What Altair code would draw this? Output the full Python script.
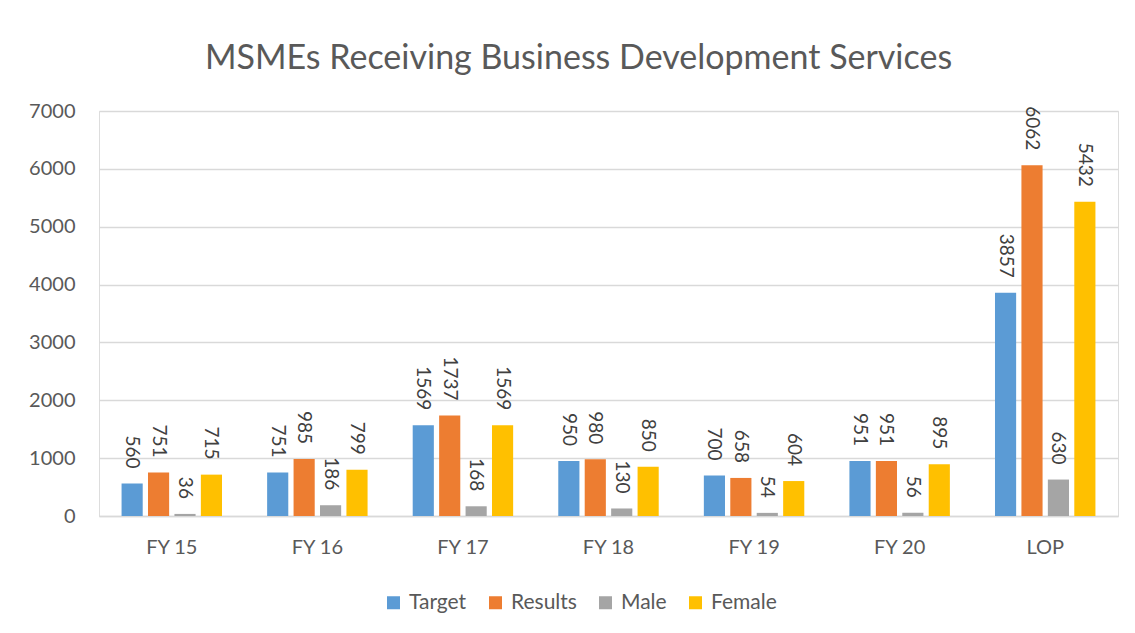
import altair as alt
import pandas as pd

categories = ["FY 15", "FY 16", "FY 17", "FY 18", "FY 19", "FY 20", "LOP"]
series = ["Target", "Results", "Male", "Female"]
target = [560, 751, 1569, 950, 700, 951, 3857]
results = [751, 985, 1737, 980, 658, 951, 6062]
male = [36, 186, 168, 130, 54, 56, 630]
female = [715, 799, 1569, 850, 604, 895, 5432]
colors = ["#5B9BD5", "#ED7D31", "#A5A5A5", "#FFC000"]

rows = []
for s, vals in zip(series, [target, results, male, female]):
    for c, v in zip(categories, vals):
        rows.append({"Year": c, "Series": s, "Value": v})
df = pd.DataFrame(rows)

FONT = "Lato"

x = alt.X("Year:N", sort=categories, title=None,
          scale=alt.Scale(paddingInner=0.31, paddingOuter=0.155),
          axis=alt.Axis(labelAngle=0, labelFontSize=20, labelColor="#595959",
                        labelFont=FONT, ticks=False, domainColor="#D9D9D9",
                        domainWidth=1.5, labelPadding=21))
xo = alt.XOffset("Series:N", sort=series,
                 scale=alt.Scale(paddingInner=0.2, paddingOuter=0))
y = alt.Y("Value:Q", title=None,
          scale=alt.Scale(domain=[0, 7000]),
          axis=alt.Axis(values=list(range(0, 7001, 1000)), format="d",
                        labelFontSize=20,
                        labelColor="#595959", labelFont=FONT, ticks=False,
                        domain=False, gridColor="#D9D9D9", gridWidth=1.5,
                        labelPadding=24))

bars = alt.Chart(df).mark_bar().encode(
    x=x, xOffset=xo, y=y,
    color=alt.Color("Series:N", sort=series,
                    scale=alt.Scale(domain=series, range=colors),
                    legend=alt.Legend(title=None, orient="none", direction="horizontal",
                                      legendX=284, legendY=481, symbolType="square",
                                      symbolSize=169, symbolStrokeWidth=0,
                                      labelFontSize=21, labelColor="#595959",
                                      labelFont=FONT, columnPadding=18,
                                      labelOffset=5, symbolOffset=0)),
)

labels = alt.Chart(df).mark_text(angle=90, align="right", baseline="middle",
                                 dx=-15, fontSize=19, color="#404040",
                                 font=FONT).encode(
    x=alt.X("Year:N", sort=categories), xOffset=alt.XOffset("Series:N", sort=series),
    y="Value:Q", text="Value:Q",
)

chart = (bars + labels).properties(
    width=1019, height=405,
    title=alt.TitleParams("MSMEs Receiving Business Development Services",
                          fontSize=34, font=FONT, fontWeight="normal",
                          color="#595959", anchor="middle", offset=25, dx=-30),
    padding={"left": 91, "top": 103, "right": 9, "bottom": 109},
    autosize=alt.AutoSizeParams(type="none"),
).configure_view(stroke=None).configure(background="white")

chart.save("out.html", embed_options={"renderer": "svg", "actions": False})
